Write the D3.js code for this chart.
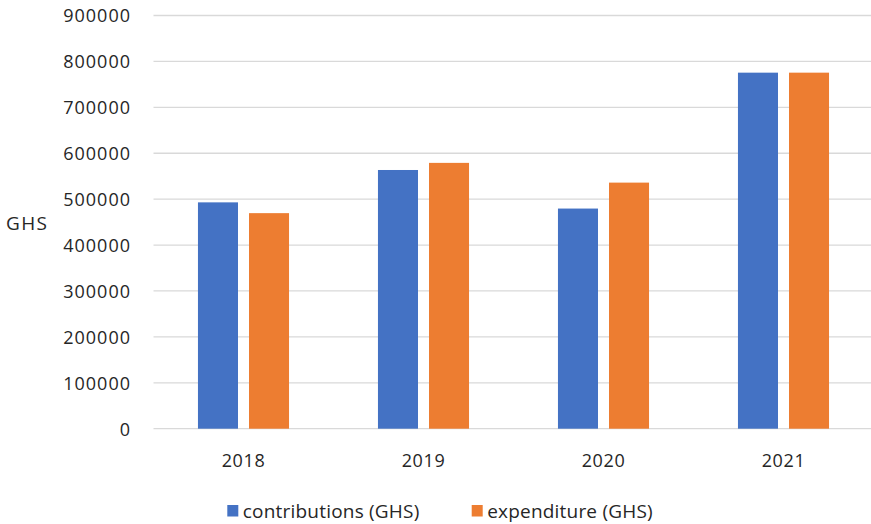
<!DOCTYPE html>
<html>
<head>
<meta charset="utf-8">
<script src="https://cdn.jsdelivr.net/npm/d3@7"></script>
<style>
  html, body { margin: 0; padding: 0; background: #fff; }
  svg { display: block; font-family: "Open Sans", sans-serif; }
</style>
</head>
<body>
<svg id="chart" width="871" height="524"></svg>
<script>
// Annual totals in GHS
const years = ["2018", "2019", "2020", "2021"];
const contributions = [493000, 563500, 479500, 775500];
const expenditure = [469500, 579000, 536000, 775500];
const seriesNames = ["contributions (GHS)", "expenditure (GHS)"];
const seriesColors = ["#4472C4", "#ED7D31"];
const yTicks = [0, 100000, 200000, 300000, 400000, 500000, 600000, 700000, 800000, 900000];

const seriesValues = [contributions, expenditure];
const rows = years.map((yr, i) => ({ year: yr, values: seriesValues.map(s => s[i]) }));

const svg = d3.select("#chart");
const W = 871;
const plotLeft = 153.5, plotRight = 873.5, plotTop = 15.5, plotBottom = 428.7;

const x0 = d3.scaleBand().domain(years).range([plotLeft, plotRight]).paddingInner(0.494).paddingOuter(0.247);
const x1 = d3.scaleBand().domain(d3.range(seriesNames.length)).range([0, x0.bandwidth()]).paddingInner(0.2157);
const y = d3.scaleLinear().domain([0, 900000]).range([plotBottom, plotTop]);

const textColor = "#262626";

// Horizontal gridlines
svg.append("g")
  .selectAll("line")
  .data(yTicks)
  .join("line")
  .attr("x1", plotLeft)
  .attr("x2", W)
  .attr("y1", d => y(d))
  .attr("y2", d => y(d))
  .attr("stroke", "#d9d9d9")
  .attr("stroke-width", 1.3);

// Y axis tick labels
const yAxis = d3.axisLeft(y).tickValues(yTicks).tickSize(0).tickPadding(0).tickFormat(d3.format("d"));
const yg = svg.append("g").attr("transform", "translate(131,0)").call(yAxis);
yg.select(".domain").remove();
yg.selectAll("text")
  .attr("font-family", "Open Sans, sans-serif")
  .attr("font-size", 18)
  .attr("letter-spacing", 1)
  .attr("fill", textColor)
  .attr("dy", "0.36em");

// Bars
const groups = svg.append("g")
  .selectAll("g")
  .data(rows)
  .join("g")
  .attr("transform", d => `translate(${x0(d.year)},0)`);

groups.selectAll("rect")
  .data(d => d.values.map((v, k) => ({ k, v })))
  .join("rect")
  .attr("x", d => x1(d.k))
  .attr("width", x1.bandwidth())
  .attr("y", d => y(d.v))
  .attr("height", d => y(0) - y(d.v))
  .attr("fill", d => seriesColors[d.k]);

// X axis category labels
const xAxis = d3.axisBottom(x0).tickSize(0).tickPadding(0);
const xg = svg.append("g").attr("transform", "translate(0,466.7)").call(xAxis);
xg.select(".domain").remove();
xg.selectAll("text")
  .attr("font-family", "Open Sans, sans-serif")
  .attr("font-size", 18)
  .attr("letter-spacing", 0.6)
  .attr("fill", textColor)
  .attr("dy", 0)
  .attr("y", 0);

// Y axis title
svg.append("text")
  .attr("x", 6)
  .attr("y", 229.8)
  .attr("font-size", 19)
  .attr("letter-spacing", 1.4)
  .attr("fill", textColor)
  .text("GHS");

// Legend
const legendItems = [
  { x: 227.3, name: seriesNames[0], color: seriesColors[0] },
  { x: 471.7, name: seriesNames[1], color: seriesColors[1] }
];
const lg = svg.append("g")
  .selectAll("g")
  .data(legendItems)
  .join("g")
  .attr("transform", d => `translate(${d.x},0)`);
lg.append("rect")
  .attr("x", 0)
  .attr("y", 505)
  .attr("width", 11)
  .attr("height", 11.5)
  .attr("fill", d => d.color);
lg.append("text")
  .attr("x", 15.5)
  .attr("y", 518)
  .attr("font-size", 19)
  .attr("letter-spacing", 0.2)
  .attr("fill", textColor)
  .text(d => d.name);
</script>
</body>
</html>
